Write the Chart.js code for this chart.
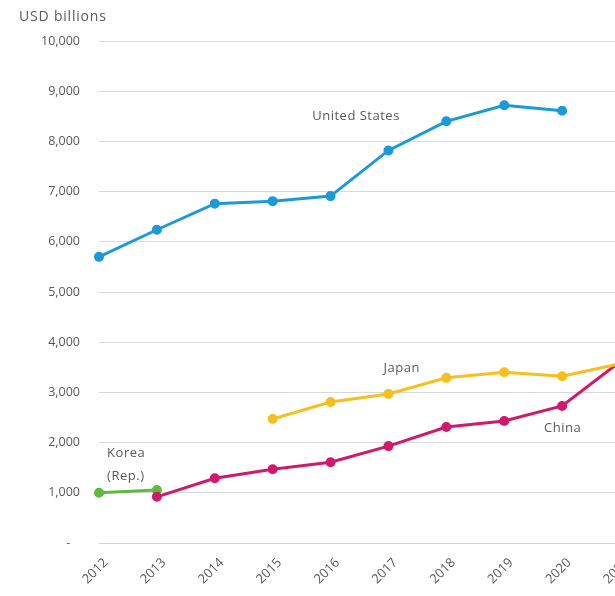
<!DOCTYPE html>
<html>
<head>
<meta charset="utf-8">
<script src="https://cdn.jsdelivr.net/npm/chart.js@4"></script>
<style>
  html, body { margin: 0; padding: 0; background: #fff; overflow: hidden; }
  #wrap { width: 615px; height: 596px; overflow: hidden; position: relative; }
  #box { position: absolute; left: 0; top: 0; width: 645px; height: 596px; }
</style>
</head>
<body>
<div id="wrap"><div id="box"><canvas id="c"></canvas></div></div>
<script>
// data (USD billions)
var years = ['2012', '2013', '2014', '2015', '2016', '2017', '2018', '2019', '2020', '2021'];
var usa   = [5700, 6240, 6760, 6810, 6910, 7820, 8400, 8720, 8610, null];
var japan = [null, null, null, 2470, 2810, 2970, 3290, 3400, 3320, 3570];
var china = [null, 920, 1290, 1470, 1610, 1930, 2310, 2430, 2730, 3610];
var korea = [1000, 1055, null, null, null, null, null, null, null, null];
var yTicks = [0, 1000, 2000, 3000, 4000, 5000, 6000, 7000, 8000, 9000, 10000];

// series name labels placed in data space
var seriesLabels = [
  { text: 'United States', x: 4.44, y: 8500, align: 'center' },
  { text: 'Japan', x: 5.23, y: 3490, align: 'center' },
  { text: 'China', x: 8.01, y: 2290, align: 'center' },
  { text: 'Korea', x: 0.14, y: 1790, align: 'left' },
  { text: '(Rep.)', x: 0.14, y: 1335, align: 'left' }
];

var textColor = '#595959';
var fontFam = '"Open Sans", sans-serif';

var labelPlugin = {
  id: 'labels',
  afterDraw: function(chart) {
    var ctx = chart.ctx;
    var xs = chart.scales.x, ys = chart.scales.y;
    ctx.save();
    ctx.fillStyle = textColor;
    ctx.letterSpacing = '0.8px';
    ctx.font = '14px ' + fontFam;
    ctx.textAlign = 'left';
    ctx.textBaseline = 'middle';
    ctx.fillText('USD billions', 19, 17);
    ctx.letterSpacing = '0.5px';
    ctx.font = '13px ' + fontFam;
    seriesLabels.forEach(function(l) {
      ctx.textAlign = l.align;
      ctx.fillText(l.text, xs.getPixelForValue(l.x), ys.getPixelForValue(l.y));
    });
    ctx.restore();
  }
};

function series(data, color) {
  return {
    data: data,
    borderColor: color,
    backgroundColor: color,
    borderWidth: 3,
    pointRadius: 3.5,
    pointHoverRadius: 3.5,
    spanGaps: false,
    tension: 0
  };
}

new Chart(document.getElementById('c'), {
  type: 'line',
  data: {
    labels: years,
    datasets: [
      series(usa, '#1b9ad6'),
      series(japan, '#f4c01e'),
      series(china, '#d1196b'),
      series(korea, '#5dbb3f')
    ]
  },
  options: {
    responsive: true,
    maintainAspectRatio: false,
    animation: false,
    layout: { padding: { top: 41, right: 25, left: 0, bottom: 0 } },
    plugins: { legend: { display: false }, tooltip: { enabled: false } },
    scales: {
      x: {
        offset: false,
        afterFit: function(axis) { axis.height = 53; },
        grid: { display: false, drawOnChartArea: false, drawTicks: true, tickLength: 6, color: '#d0d0d0' },
        border: { display: true, color: '#d0d0d0', width: 1 },
        ticks: {
          color: textColor,
          font: { family: fontFam, size: 13 },
          minRotation: 45, maxRotation: 45, padding: 6, labelOffset: 7
        }
      },
      y: {
        min: 0, max: 10000,
        afterFit: function(axis) { axis.width = 99; },
        afterBuildTicks: function(axis) {
          axis.ticks = yTicks.map(function(v) { return { value: v }; });
        },
        grid: { color: '#d9d9d9', drawTicks: false, lineWidth: 1 },
        border: { display: false },
        ticks: {
          color: textColor,
          padding: 19,
          font: { family: fontFam, size: 12.5 },
          callback: function(v) { return v === 0 ? '-   ' : v.toLocaleString('en-US'); }
        }
      }
    }
  },
  plugins: [labelPlugin]
});
</script>
</body>
</html>
